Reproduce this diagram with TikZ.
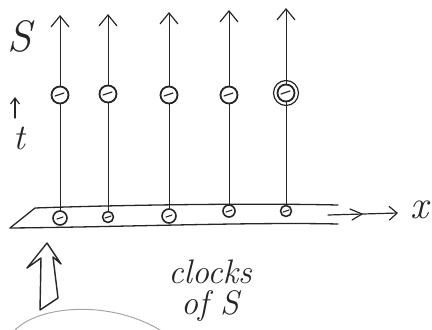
\documentclass[tikz,border=0pt]{standalone}
\usetikzlibrary{arrows.meta}
\begin{document}
\begin{tikzpicture}[x=1pt,y=-1pt,
  ink/.style={draw=black!85, line cap=round, line join=round},
  wline/.style={ink, line width=0.8pt, -{Straight Barb[length=11pt,width=18pt,line width=1.2pt]}},
  upclock/.style={circle, ink, line width=1.8pt, minimum size=17pt, inner sep=0pt},
  loclock/.style={circle, ink, line width=1.6pt, minimum size=12pt, inner sep=0pt},
  lbl/.style={text=black!85, inner sep=0pt}]
\useasboundingbox (0,0) rectangle (432,330);
% plane strip
\draw[ink, line width=1.3pt] (10,228) -- (35,208) .. controls (120,205) and (250,203) .. (338,205);
\draw[ink, line width=1.3pt] (10,228) .. controls (120,227) and (250,222) .. (338,224);
% x axis
\coordinate (xs) at (328,215);
\coordinate (xe) at (398,213);
\draw[ink, line width=1.2pt, -{Straight Barb[length=8pt,width=14pt]}] (xs) -- (xe);
\draw[ink, line width=1.2pt] (350,209) -- (362,214) -- (352,220);
\node[lbl, font=\fontsize{40}{40}\selectfont\itshape] (xl) at (419,210) {x};
% clocks
\foreach \i/\x/\yu/\yl/\ys/\ls in {1/60/95/218/15/14pt, 2/108/94/217/14/11pt, 3/169/95/216/12/14pt, 4/229/95/211/10/12pt, 5/286/93/211/8/11pt}{
  \node[upclock] (u\i) at (\x,\yu) {};
  \node[loclock, minimum size=\ls] (l\i) at (\x,\yl) {};
  \coordinate (top\i) at (\x,\ys);
  \draw[ink, line width=0.8pt] (l\i) -- (u\i);
  \draw[wline] (u\i) -- (top\i);
  \draw[ink, line width=1.2pt] (\x-5,\yu+1) -- (\x+4,\yu-2);
  \draw[ink, line width=1.1pt] (\x-3,\yl+1) -- (\x+3,\yl-1);
}
\node[circle, ink, line width=1.2pt, minimum width=23pt, minimum height=25pt, inner sep=0pt] (u5o) at (286,93) {};
% S and t
\node[lbl, font=\fontsize{44}{44}\selectfont\itshape] (S) at (20,36) {S};
\coordinate (tb) at (15,118);
\coordinate (tt) at (15,97);
\draw[ink, line width=1.2pt, -{Straight Barb[length=6pt,width=9pt]}] (tb) -- (tt);
\node[lbl, font=\fontsize{36}{36}\selectfont\itshape] (t) at (19,138) {t};
% hollow arrow
\draw[ink, line width=1.4pt] (40,310) -- (41,258) -- (27,268) -- (47,243) -- (61,264) -- (53,257) -- (58,298) -- (40,310);
% gray arc
\draw[black!35, line width=1pt] (15,330) .. controls (40,305) and (110,300) .. (160,330);
% text
\node[lbl, font=\fontsize{34}{34}\selectfont\itshape] (cl) at (210,272) {clocks};
\node[lbl, font=\fontsize{34}{34}\selectfont\itshape] (of) at (210,306) {of S};
\end{tikzpicture}
\end{document}
